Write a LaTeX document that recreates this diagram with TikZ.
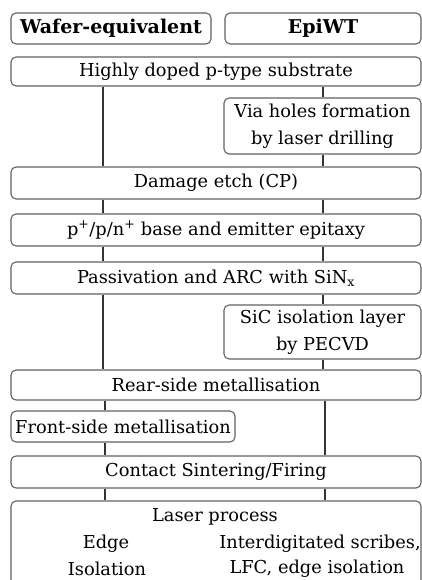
\documentclass[tikz,border=0pt]{standalone}
\usepackage{fontspec}
\setmainfont{DejaVu Serif}
\begin{document}
\begin{tikzpicture}[x=1pt,y=-1pt,
  box/.style={draw=black!62,line width=1.1pt,rounded corners=5pt,fill=white,inner sep=0pt,
    font=\fontsize{17.8}{27}\selectfont,align=center},
  head/.style={box,font=\bfseries\fontsize{19}{22}\selectfont},
  lbl/.style={inner sep=0pt,font=\fontsize{17.8}{27}\selectfont},
  conn/.style={draw=black!80,line width=1.1pt}]
\useasboundingbox (0,0) rectangle (422,580);
\coordinate (L) at (103,0);
\coordinate (R) at (323,0);
\coordinate (L2) at (105,0);
\coordinate (R2) at (325,0);
% headers
\node[head,minimum width=200,minimum height=31] (wafer) at (111,28.5) {Wafer-equivalent};
\node[head,minimum width=196,minimum height=31] (epi) at (323,28.5) {EpiWT};
% steps
\node[box,minimum width=410,minimum height=29] (sub) at (216,71.5) {Highly doped p-type substrate};
\node[box,minimum width=197,minimum height=56] (via) at (322.5,126) {Via holes formation\\by laser drilling};
\node[box,minimum width=410,minimum height=32] (dam) at (216,183) {Damage etch (CP)};
\node[box,minimum width=410,minimum height=32] (epx) at (216,230) {p\textsuperscript{+}/p/n\textsuperscript{+} base and emitter epitaxy};
\node[box,minimum width=410,minimum height=32] (pas) at (216,278) {Passivation and ARC with SiN\textsubscript{x}};
\node[box,minimum width=197,minimum height=54] (sic) at (322.5,332) {SiC isolation layer\\by PECVD};
\node[box,minimum width=410,minimum height=30] (rear) at (216,385) {Rear-side metallisation};
\node[box,minimum width=224,minimum height=31] (front) at (123,426.5) {Front-side metallisation};
\node[box,minimum width=410,minimum height=32] (cont) at (216,472) {Contact Sintering/Firing};
\node[box,minimum width=410,minimum height=120] (laser) at (216,561) {};
\node[lbl] (lp) at (215,517) {Laser process};
\node[lbl] (edge) at (106,544) {Edge};
\node[lbl] (iso) at (107,569) {Isolation};
\node[lbl] (inter) at (320,544) {Interdigitated scribes,};
\node[lbl] (lfc) at (317,569) {LFC, edge isolation};
% connectors
\draw[conn] (sub.south -| L) -- (dam.north -| L);
\draw[conn] (sub.south -| R) -- (via.north -| R);
\draw[conn] (via.south -| R) -- (dam.north -| R);
\draw[conn] (dam.south -| L) -- (epx.north -| L);
\draw[conn] (dam.south -| R) -- (epx.north -| R);
\draw[conn] (epx.south -| L) -- (pas.north -| L);
\draw[conn] (epx.south -| R) -- (pas.north -| R);
\draw[conn] (pas.south -| L) -- (rear.north -| L);
\draw[conn] (pas.south -| R) -- (sic.north -| R);
\draw[conn] (sic.south -| R) -- (rear.north -| R);
\draw[conn] (rear.south -| L2) -- (front.north -| L2);
\draw[conn] (rear.south -| R2) -- (cont.north -| R2);
\draw[conn] (front.south -| L2) -- (cont.north -| L2);
\draw[conn] (cont.south -| L2) -- (laser.north -| L2);
\draw[conn] (cont.south -| R2) -- (laser.north -| R2);
\end{tikzpicture}
\end{document}
